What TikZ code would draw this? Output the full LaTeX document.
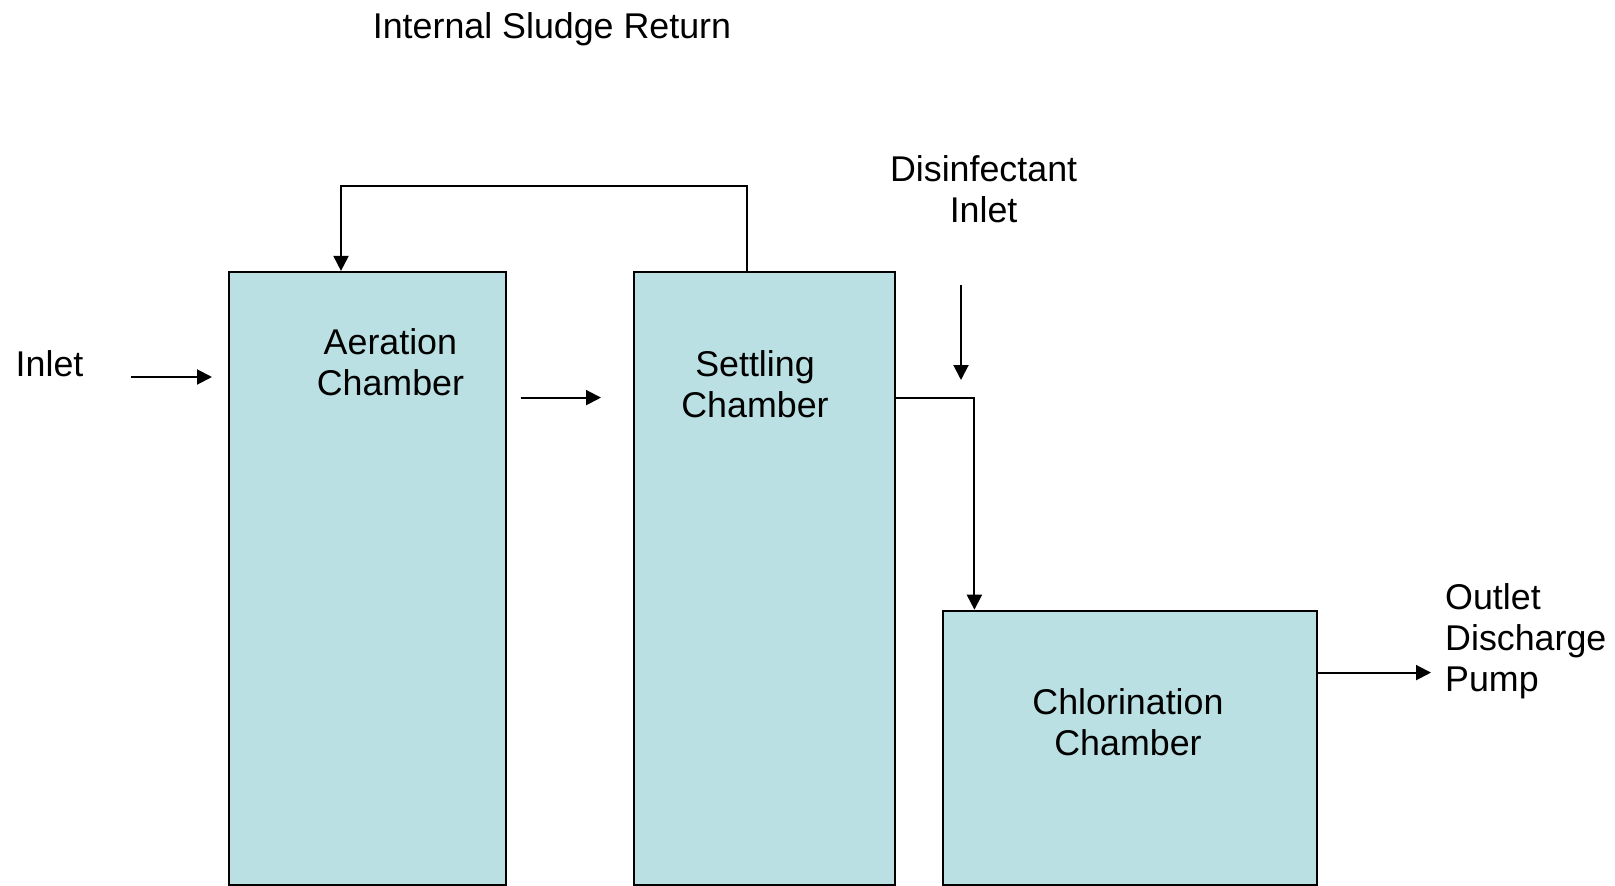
\documentclass[tikz,border=0pt]{standalone}
\usepackage{fontspec}
\setmainfont{Liberation Sans}
\usetikzlibrary{arrows.meta}
\definecolor{tank}{RGB}{186,224,227}
\begin{document}
\begin{tikzpicture}[x=1pt,y=-1pt,
  box/.style={draw=black,line width=2pt,fill=tank,inner sep=0pt,anchor=north west},
  lbl/.style={font=\fontsize{35.8}{41.2}\selectfont,inner sep=0pt,align=center},
  flow/.style={line width=2pt,-{Triangle[length=15pt,width=15pt]}}]
\useasboundingbox (0,0) rectangle (1615,886);
% shadows
\fill[black!50] (229.6,273.9) rectangle (506.7,886);
\fill[black!50] (635.4,273.9) rectangle (896,886);
\fill[black!50] (944.4,612.7) rectangle (1318.3,886);
% boxes
\node[box,minimum width=277.1pt,minimum height=612.8pt] (aer) at (227.6,270.9) {};
\node[box,minimum width=260.6pt,minimum height=612.8pt] (set) at (633.4,270.9) {};
\node[box,minimum width=373.9pt,minimum height=274pt] (chl) at (942.4,609.7) {};
% texts (base anchor = baseline of last line)
\node[lbl,anchor=base] (ret) at (552,38.5) {Internal Sludge Return};
\node[lbl,anchor=base] (dis) at (983.6,222.8) {Disinfectant\\Inlet};
\node[lbl,anchor=base west] (inl) at (15.5,376.4) {Inlet};
\node[lbl,anchor=base] (aert) at (390.4,395.8) {Aeration\\Chamber};
\node[lbl,anchor=base] (sett) at (755,417.6) {Settling\\Chamber};
\node[lbl,anchor=base] (chlt) at (1128,755.4) {Chlorination\\Chamber};
\node[lbl,anchor=base west,align=left] (out) at (1445,691.6) {Outlet\\Discharge\\Pump};
% connector coordinates
\coordinate (inA) at (130.8,377);
\coordinate (inB) at (212,377);
\coordinate (mA) at (520.5,397.6);
\coordinate (mB) at (601,397.6);
\coordinate (dA) at (961,285.3);
\coordinate (dB) at (961,380);
\coordinate (oB) at (1431,672.6);
% connectors
\draw[flow] (inA) -- (inB);
\draw[flow] (mA) -- (mB);
\draw[flow] (dA) -- (dB);
\draw[flow] (set.north west -| 746.7,0) -- (746.7,186.4) -| (aer.north west -| 341,0);
\draw[flow] (set.north east |- 0,397.6) -| (chl.north west -| 974.4,0);
\draw[flow] (chl.north east |- 0,672.6) -- (oB);
\end{tikzpicture}
\end{document}
